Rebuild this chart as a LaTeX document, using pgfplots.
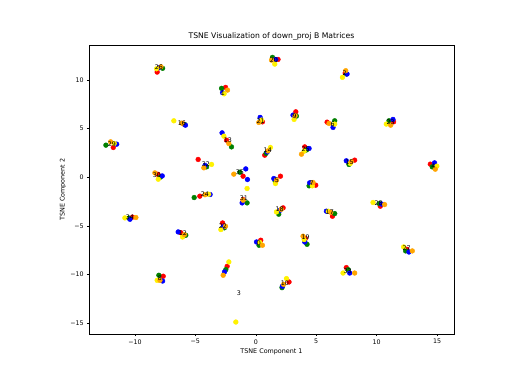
\documentclass[border=0pt]{standalone}
\usepackage{fontspec}
\setmainfont{DejaVu Sans}
\usepackage{pgfplots}
\usepackage{pgfplotstable}
\pgfplotsset{compat=1.18}

% one table per colour (x y), one point per layer
\pgfplotstableread{
x y
-8.16 10.79
-2.50 9.22
-5.95 5.45
0.55 5.68
-2.42 3.80
-11.79 3.05
1.84 12.09
7.40 10.70
3.31 6.71
5.90 5.65
11.40 5.68
-4.77 1.82
-1.05 0.10
-8.10 0.30
-4.63 -1.95
-1.05 -2.30
-10.20 -4.10
-6.20 -5.70
-2.75 -4.70
0.74 2.26
4.05 3.11
8.18 1.75
14.44 1.34
2.04 0.10
4.96 -0.82
2.26 -3.15
6.34 -4.01
10.30 -2.98
4.10 -6.30
12.50 -7.40
7.49 -9.28
2.75 -10.76
0.41 -6.47
-7.66 -10.17
-2.37 -9.15
}\redpts

\pgfplotstableread{
x y
-7.71 11.18
-2.83 9.12
-5.87 5.40
0.40 5.75
-2.01 3.11
-12.40 3.29
1.38 12.30
7.50 10.60
3.36 6.27
6.53 5.79
11.02 5.79
-4.07 1.06
-1.32 0.51
-7.90 0.00
-5.10 -2.09
-0.72 -2.64
-10.50 -4.20
-5.79 -5.96
-2.60 -5.20
0.85 2.45
4.20 2.80
7.71 1.31
14.60 1.06
1.60 -0.40
4.41 -0.89
1.90 -3.80
6.53 -3.74
10.22 -2.71
4.24 -6.89
12.40 -7.57
7.65 -9.50
2.17 -11.34
0.27 -6.99
-8.02 -10.07
-2.48 -9.49
}\greenpts

\pgfplotstableread{
x y
-8.00 11.24
-2.75 8.67
-5.82 5.34
0.36 6.14
-2.79 4.55
-11.51 3.39
1.65 12.09
7.55 10.59
3.08 6.37
6.39 5.11
11.35 5.93
-4.20 1.20
-0.83 0.85
-0.69 -0.24
-7.74 0.13
-3.78 -1.78
-1.13 -2.64
-10.41 -4.32
-6.42 -5.62
-2.70 -5.10
0.95 2.60
4.41 2.95
7.49 1.68
14.79 1.47
1.49 -0.14
4.46 -0.58
2.00 -3.40
5.84 -3.49
10.40 -2.75
4.05 -6.65
12.67 -7.68
7.77 -9.84
2.20 -11.20
0.06 -6.65
-7.71 -10.66
-2.59 -9.73
}\bluepts

\pgfplotstableread{
x y
-8.21 11.13
-2.62 8.56
-6.78 5.79
0.47 5.86
-2.64 4.21
-11.71 3.46
1.57 11.61
7.17 10.25
3.17 5.93
6.53 5.45
10.80 5.45
-3.66 1.31
-0.72 -1.16
-8.07 -0.21
-3.90 -1.75
-10.83 -4.18
-6.06 -6.14
-2.89 -5.38
1.21 3.05
4.00 2.67
7.82 1.41
14.98 1.13
1.63 -0.65
4.68 -0.89
1.71 -3.57
6.00 -3.50
9.70 -2.60
4.00 -6.40
12.23 -7.16
7.22 -9.84
2.54 -10.41
0.33 -6.70
-8.16 -10.59
-2.23 -8.70
-1.65 -14.87
}\yellowpts

\pgfplotstableread{
x y
-7.85 11.34
-2.34 8.94
-6.12 5.55
0.25 5.62
-2.23 3.46
-12.01 3.63
1.30 12.02
7.44 10.93
3.25 6.30
6.06 5.52
11.16 5.34
-4.30 0.96
-1.82 0.31
-8.35 0.44
-4.20 -1.80
-1.05 -2.36
-9.92 -4.14
-5.90 -5.90
-2.50 -5.04
1.00 2.70
3.78 2.36
7.90 1.60
14.85 0.82
1.72 -0.30
4.74 -0.55
2.10 -3.30
6.20 -3.60
10.66 -2.81
3.91 -6.06
12.95 -7.57
8.18 -9.84
2.30 -11.00
0.55 -6.99
-7.93 -10.59
-2.70 -10.07
}\orangepts

\pgfplotstableread{
x y lab
-8.02 11.31 26
-2.73 8.63 1
1.49 12.02 20
7.36 10.69 2
-6.12 5.55 16
0.41 5.76 21
-2.31 3.80 13
-11.90 3.39 29
3.22 6.27 9
6.36 5.45 6
11.16 5.65 23
0.99 2.77 14
4.13 2.88 25
7.77 1.54 15
14.70 1.13 4
-4.13 1.34 32
-1.32 0.51 35
-8.18 0.21 30
1.74 -0.31 5
4.63 -0.62 7
-4.21 -1.75 24
-0.99 -2.16 31
-10.41 -4.11 34
1.98 -3.29 18
6.12 -3.60 17
10.17 -2.67 28
-6.03 -5.76 12
-2.73 -5.04 22
4.13 -6.17 19
12.48 -7.30 27
0.25 -6.78 0
-7.93 -10.38 8
2.40 -10.89 10
7.60 -9.66 33
-1.40 -11.92 3
}\labels

\definecolor{mplOrange}{HTML}{FFA500}
\definecolor{mplGreen}{HTML}{008000}

\begin{document}
\begin{tikzpicture}
\fill[white] (-89pt,-42pt) rectangle (443pt,334pt);
\useasboundingbox (-89pt,-42pt) rectangle (443pt,334pt);
\begin{axis}[
	scale only axis,
	width=365pt, height=289pt,
	xmin=-13.8, xmax=16.4,
	ymin=-16.1, ymax=13.57,
	xtick={-10,-5,0,5,10,15},
	xticklabels={−10,−5,0,5,10,15},
	ytick={-15,-10,-5,0,5,10},
	yticklabels={−15,−10,−5,0,5,10},
	xtick pos=bottom, ytick pos=left,
	tick align=outside,
	major tick length=2.2pt,
	tick style={black, line width=0.45pt},
	axis line style={black, line width=0.45pt},
	tick label style={font=\fontsize{6.3}{7}\selectfont},
	xticklabel style={inner sep=1pt, yshift=-2pt},
	yticklabel style={inner sep=1pt, xshift=-2pt},
	title={TSNE Visualization of down\_proj B Matrices},
	title style={font=\fontsize{7.7}{9}\selectfont, yshift=-5pt},
	xlabel={TSNE Component 1},
	ylabel={TSNE Component 2},
	label style={font=\fontsize{6.4}{7.5}\selectfont},
	x label style={at={([yshift=-18pt]axis description cs:0.5,0)}, anchor=center},
	y label style={at={([xshift=-26pt]axis description cs:0,0.5)}, anchor=center},
	every axis plot/.append style={only marks, mark=*, mark size=2.4pt},
]
\addplot[color=red, mark options={draw=none, fill=red}] table {\redpts};
\addplot[color=mplGreen, mark options={draw=none, fill=mplGreen}] table {\greenpts};
\addplot[color=blue, mark options={draw=none, fill=blue}] table {\bluepts};
\addplot[color=yellow, mark options={draw=none, fill=yellow}] table {\yellowpts};
\addplot[color=mplOrange, mark options={draw=none, fill=mplOrange}] table {\orangepts};
\addplot[no marks, draw=none,
	nodes near coords, point meta=explicit symbolic,
	every node near coord/.style={anchor=center, inner sep=0pt, text=black,
		font=\fontsize{6.3}{7}\selectfont}]
	table[meta=lab] {\labels};
\end{axis}
\end{tikzpicture}
\end{document}
